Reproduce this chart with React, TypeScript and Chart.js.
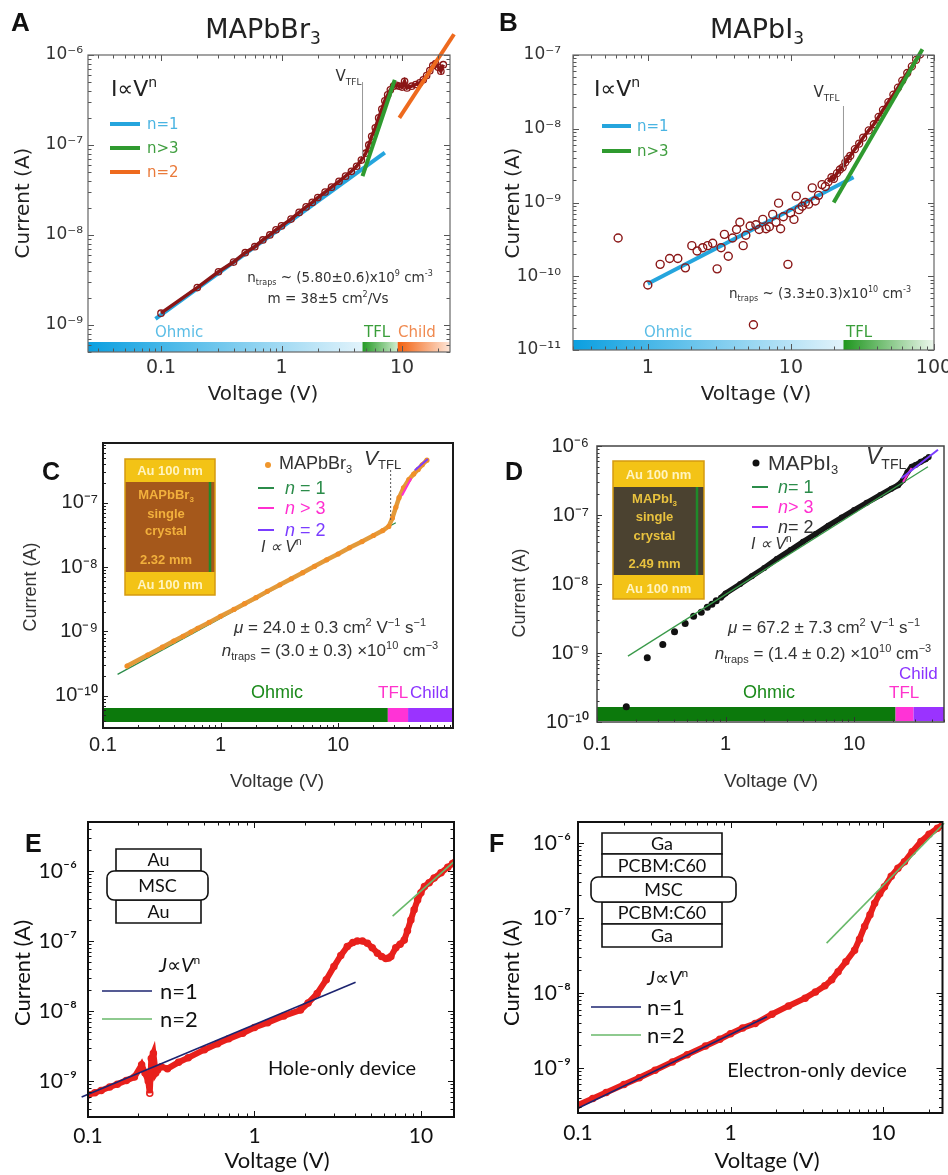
import React, { useEffect, useRef } from 'react';
import { Chart, registerables } from 'chart.js';
Chart.register(...registerables);

const PAGE_W = 948;
const PAGE_H = 1175;

// ---------------- Panel A : MAPbBr3 ----------------
const aV = [0.1,0.2,0.3,0.4,0.5,0.6,0.7,0.8,0.9,1.0,1.2,1.4,1.6,1.8,2.0,2.3,2.6,3.0,3.4,3.8,4.2,4.6,5.0,5.3,5.6,6.0,6.4,6.8,7.2,7.6,8.0,8.5,9.0,9.5,10,10.5,11,12,13,14,15,16,17,18,19,20,21,22];
const aI = [1.35e-9,2.6e-9,3.9e-9,5.0e-9,6.35e-9,7.4e-9,8.8e-9,1.0e-8,1.14e-8,1.26e-8,1.5e-8,1.78e-8,2.05e-8,2.3e-8,2.6e-8,3.0e-8,3.4e-8,3.95e-8,4.5e-8,5.1e-8,5.8e-8,6.8e-8,8.1e-8,1.0e-7,1.25e-7,1.55e-7,2.0e-7,2.5e-7,3.1e-7,3.6e-7,4.1e-7,4.5e-7,4.6e-7,4.5e-7,4.4e-7,5.1e-7,4.3e-7,4.5e-7,4.7e-7,4.9e-7,5.3e-7,5.9e-7,6.7e-7,7.6e-7,8.0e-7,7.3e-7,6.6e-7,7.8e-7];
const aFitN1V = [0.09, 7.2];
const aFitN1I = [1.17e-9, 8.2e-8];
const aFitN3V = [4.7, 8.7];
const aFitN3I = [4.5e-8, 5.3e-7];
const aFitN2V = [9.5, 27];
const aFitN2I = [2.0e-7, 1.7e-6];
const aVtfl = 4.7;
const aRegimeEdges = [4.7, 9.2];
const aXRange = [0.0248, 25];
const aYRange = [5.0e-10, 1e-6];

// ---------------- Panel B : MAPbI3 ----------------
const bV = [0.62,1.0,1.22,1.42,1.62,1.83,2.03,2.21,2.42,2.62,2.84,3.05,3.25,3.43,3.65,3.91,4.17,4.4,4.64,4.84,5.19,5.47,5.69,6.0,6.36,6.7,7.07,7.46,7.87,8.2,8.47,8.85,9.53,9.95,10.5,10.9,11.4,12.0,12.6,13.3,14.1,14.8,15.6,16.5,17.4];
const bI = [3.3e-10,7.6e-11,1.45e-10,1.74e-10,1.74e-10,1.3e-10,2.6e-10,2.2e-10,2.44e-10,2.6e-10,2.8e-10,1.26e-10,2.44e-10,3.7e-10,1.87e-10,3.3e-10,4.3e-10,5.4e-10,2.6e-10,3.6e-10,4.8e-10,2.2e-11,5.0e-10,4.3e-10,5.9e-10,4.4e-10,4.7e-10,6.9e-10,5.4e-10,9.8e-10,4.4e-10,6.4e-10,1.45e-10,7.2e-10,5.9e-10,1.22e-9,8.0e-10,8.9e-10,1.0e-9,9.5e-10,1.58e-9,1.05e-9,1.25e-9,1.75e-9,1.65e-9];
const bDenseV = [18.3,19.2,20,21,22,23,24,25,26,28,30,32,35,38,41,44,48,52,56,60,65,70,75,80];
const bDenseI = [1.9e-9,2.2e-9,2.1e-9,2.5e-9,2.8e-9,3.0e-9,3.5e-9,3.9e-9,4.3e-9,5.3e-9,6.3e-9,7.6e-9,9.5e-9,1.15e-8,1.45e-8,1.8e-8,2.3e-8,2.9e-8,3.6e-8,4.5e-8,5.7e-8,7.0e-8,8.6e-8,1.02e-7];
const bFitN1V = [1.0, 27.4];
const bFitN1I = [7.9e-11, 2.2e-9];
const bFitN3V = [19.9, 83];
const bFitN3I = [1.0e-9, 1.2e-7];
const bVtfl = 23.3;
const bRegimeEdges = [23.3];
const bXRange = [0.311, 100];
const bYRange = [1e-11, 1e-7];

// ---------------- Panel C : MAPbBr3 single crystal ----------------
const cV = [0.16,0.24,0.32,0.40,0.48,0.56,0.64,0.8,1.0,1.3,1.6,2.0,2.5,3.2,4.0,5.0,6.3,8.0,10,12.5,16,20,24,27,29,31,33,36,40,44,48,52,57];
const cI = [2.9e-10,4.3e-10,5.7e-10,7.1e-10,8.4e-10,9.8e-10,1.12e-9,1.38e-9,1.72e-9,2.2e-9,2.7e-9,3.35e-9,4.2e-9,5.3e-9,6.6e-9,8.2e-9,1.03e-8,1.3e-8,1.6e-8,2.0e-8,2.5e-8,3.1e-8,3.7e-8,4.3e-8,5.8e-8,8.5e-8,1.2e-7,1.7e-7,2.3e-7,2.8e-7,3.3e-7,3.9e-7,4.6e-7];
const cFitN1V = [0.133, 31];
const cFitN1I = [2.15e-10, 4.9e-8];
const cFitN3V = [35, 42];
const cFitN3I = [1.3e-7, 2.4e-7];
const cFitN2V = [45, 58];
const cFitN2I = [3.2e-7, 4.8e-7];
const cVtfl = 28;
const cRegimeEdges = [26.5, 39.4];
const cXRange = [0.1, 95];
const cYRange = [3.16e-11, 8.5e-7];

// ---------------- Panel D : MAPbI3 single crystal ----------------
const dDotV = [0.169,0.246,0.325,0.401,0.485,0.564,0.647,0.721,0.783,0.846];
const dDotI = [1.67e-10,8.5e-10,1.33e-9,2.04e-9,2.67e-9,3.4e-9,3.9e-9,4.6e-9,5.1e-9,5.7e-9];
const dV = [0.92,1.0,1.3,1.6,2.0,2.5,3.2,4.0,5.0,6.3,8.0,10,12.5,16,19.5,22,24,26,28,30,33,36,38];
const dI = [6.3e-9,7.3e-9,1.0e-8,1.3e-8,1.7e-8,2.3e-8,3.1e-8,4.1e-8,5.3e-8,7.0e-8,9.2e-8,1.18e-7,1.5e-7,1.95e-7,2.4e-7,2.7e-7,3.2e-7,4.2e-7,5.0e-7,5.3e-7,5.9e-7,6.4e-7,6.9e-7];
const dFitN1V = [0.174, 37.5];
const dFitN1I = [9e-10, 5.0e-7];
const dFitN3V = [24, 28];
const dFitN3I = [3.0e-7, 4.8e-7];
const dFitN2V = [23.3, 44.9];
const dFitN2I = [3.4e-7, 8.8e-7];
const dRegimeEdges = [21, 29];
const dXRange = [0.1, 50];
const dYRange = [1e-10, 1e-6];

// ---------------- Panel E : hole-only device ----------------
const eV = [0.100,0.110,0.120,0.135,0.150,0.170,0.190,0.210,0.220,0.230,0.235,0.240,0.247,0.255,0.262,0.275,0.300,0.350,0.400,0.500,0.600,0.700,0.850,1.00,1.20,1.50,1.89,2.10,2.38,2.70,3.00,3.30,3.61,3.90,4.15,4.45,4.77,5.10,5.48,5.80,6.15,6.40,6.60,7.06,7.50,7.94,8.30,8.70,9.10,9.55,10.0,10.5,11.2,12.0,13.2,14.5,15.5,16.0];
const eI = [6.3e-10,6.8e-10,7.3e-10,8.2e-10,9.0e-10,1.02e-9,1.14e-9,1.7e-9,1.3e-9,1.0e-9,6.7e-10,2.1e-9,2.5e-9,1.3e-9,1.44e-9,1.6e-9,1.5e-9,1.85e-9,2.15e-9,2.8e-9,3.4e-9,4.0e-9,4.8e-9,5.8e-9,6.8e-9,8.5e-9,1.03e-8,1.3e-8,1.78e-8,2.8e-8,4.3e-8,6.2e-8,8.3e-8,9.5e-8,1.0e-7,1.0e-7,9.3e-8,8.0e-8,6.7e-8,6.0e-8,5.6e-8,5.7e-8,6.0e-8,8.0e-8,9.0e-8,1.03e-7,1.4e-7,2.0e-7,2.8e-7,3.86e-7,4.9e-7,6.0e-7,6.8e-7,7.9e-7,9.4e-7,1.13e-6,1.28e-6,1.33e-6];
const eFitN1V = [0.0916, 4.05];
const eFitN1I = [5.9e-10, 2.57e-8];
const eFitN2V = [6.76, 15.8];
const eFitN2I = [2.27e-7, 1.36e-6];
const eXRange = [0.1, 15.8];
const eYRange = [3.06e-10, 5.0e-6];

// ---------------- Panel F : electron-only device ----------------
const fV = [0.100,0.125,0.153,0.200,0.252,0.320,0.416,0.520,0.685,0.850,1.00,1.20,1.45,1.87,2.40,3.08,3.60,4.15,4.60,5.07,5.70,6.50,7.00,7.56,8.20,8.80,9.50,10.2,11.3,12.5,13.8,15.5,17.7,20.0,22.7,24.5];
const fI = [3.2e-10,3.9e-10,4.7e-10,6.0e-10,7.4e-10,9.3e-10,1.2e-9,1.5e-9,1.95e-9,2.4e-9,2.85e-9,3.4e-9,3.9e-9,5.2e-9,6.7e-9,8.5e-9,1.03e-8,1.24e-8,1.5e-8,1.92e-8,2.6e-8,3.7e-8,5.2e-8,7.7e-8,1.1e-7,1.57e-7,2.1e-7,2.6e-7,3.6e-7,4.6e-7,5.6e-7,7.6e-7,1.04e-6,1.3e-6,1.57e-6,1.74e-6];
const fFitN1V = [0.1, 1.73];
const fFitN1I = [2.9e-10, 4.8e-9];
const fFitN2V = [4.26, 25.1];
const fFitN2I = [4.6e-8, 1.83e-6];
const fXRange = [0.1, 24.5];
const fYRange = [2.5e-10, 1.9e-6];

// ---------------- fonts & colours ----------------
const FA = '"DejaVu Sans", Verdana, sans-serif';
const FC = '"Liberation Sans", Arial, sans-serif';
const FE = 'Lato, "Open Sans", sans-serif';
const FL = '"Liberation Sans Narrow", "Liberation Sans", Arial, sans-serif';

const MAROON = '#8a1616';
const A_BLUE = '#25a5dd';
const A_GREEN = '#2f9a2f';
const A_ORANGE = '#ee6a1e';
const RED = '#e8201c';
const NAVY = '#1c2470';
const E_GREEN = '#69b96a';
const C_GREEN = '#2b8c4a';
const C_MAG = '#ff2fd0';
const C_PUR = '#7a3cff';

// ---------------- helpers ----------------
const pts = (xs: number[], ys: number[]) => xs.map((x, i) => ({ x, y: ys[i] }));
const SUPMAP: Record<string, string> = { '0': '⁰', '1': '¹', '2': '²', '3': '³', '4': '⁴', '5': '⁵', '6': '⁶', '7': '⁷', '8': '⁸', '9': '⁹', '-': '⁻' };
const supStr = (n: number) => String(n).split('').map((c) => SUPMAP[c] ?? c).join('');
const fmtX = (r: number) => (r >= 0 ? String(Math.round(Math.pow(10, r))) : String(+Math.pow(10, r).toPrecision(1)));

type Seg = { t: string; k: 'n' | 'sup' | 'sub'; it: boolean };
function parseRich(s: string): Seg[] {
  const segs: Seg[] = [];
  let buf = '';
  let i = 0;
  while (i < s.length) {
    const c = s[i];
    if ((c === '^' || c === '_' || c === '!') && s[i + 1] === '{') {
      if (buf) segs.push({ t: buf, k: 'n', it: false });
      buf = '';
      const j = s.indexOf('}', i + 2);
      const inner = s.slice(i + 2, j);
      segs.push({ t: inner, k: c === '^' ? 'sup' : c === '_' ? 'sub' : 'n', it: c === '!' });
      i = j + 1;
    } else {
      buf += c;
      i++;
    }
  }
  if (buf) segs.push({ t: buf, k: 'n', it: false });
  return segs;
}

type RichOpt = { size: number; family: string; color: string; align?: 'left' | 'center' | 'right'; weight?: string; rot?: boolean };
function rich(ctx: CanvasRenderingContext2D, s: string, x: number, y: number, o: RichOpt) {
  const segs = parseRich(s);
  const w = o.weight || 'normal';
  const fontOf = (g: Seg) => `${g.it ? 'italic ' : ''}${w} ${g.k === 'n' ? o.size : Math.round(o.size * 0.62)}px ${o.family}`;
  const widths = segs.map((g) => {
    ctx.font = fontOf(g);
    return ctx.measureText(g.t).width;
  });
  const total = widths.reduce((a, b) => a + b, 0);
  ctx.save();
  ctx.translate(x, y);
  if (o.rot) ctx.rotate(-Math.PI / 2);
  let sx = o.align === 'center' ? -total / 2 : o.align === 'right' ? -total : 0;
  const base = o.size * 0.36;
  ctx.fillStyle = o.color;
  ctx.textAlign = 'left';
  ctx.textBaseline = 'alphabetic';
  segs.forEach((g, i) => {
    ctx.font = fontOf(g);
    const dy = g.k === 'sup' ? -o.size * 0.4 : g.k === 'sub' ? o.size * 0.22 : 0;
    ctx.fillText(g.t, sx, base + dy);
    sx += widths[i];
  });
  ctx.restore();
}

function seg(ctx: CanvasRenderingContext2D, x0: number, y0: number, x1: number, y1: number, color: string, w: number, dash?: number[]) {
  ctx.save();
  ctx.strokeStyle = color;
  ctx.lineWidth = w;
  if (dash) ctx.setLineDash(dash);
  ctx.beginPath();
  ctx.moveTo(x0, y0);
  ctx.lineTo(x1, y1);
  ctx.stroke();
  ctx.restore();
}

function gradBar(ctx: CanvasRenderingContext2D, x0: number, x1: number, y: number, h: number, c0: string, c1: string) {
  const g = ctx.createLinearGradient(x0, 0, x1, 0);
  g.addColorStop(0, c0);
  g.addColorStop(1, c1);
  ctx.fillStyle = g;
  ctx.fillRect(x0, y, x1 - x0, h);
}

function boxText(ctx: CanvasRenderingContext2D, x0: number, y0: number, x1: number, y1: number, label: string, rounded: boolean) {
  ctx.save();
  ctx.fillStyle = '#fff';
  ctx.strokeStyle = '#111';
  ctx.lineWidth = 1.6;
  ctx.beginPath();
  if (rounded) (ctx as any).roundRect(x0, y0, x1 - x0, y1 - y0, 7);
  else ctx.rect(x0, y0, x1 - x0, y1 - y0);
  ctx.fill();
  ctx.stroke();
  ctx.restore();
  rich(ctx, label, (x0 + x1) / 2, (y0 + y1) / 2, { size: 18, family: FE, color: '#111', align: 'center' });
}

function crystalInset(ctx: CanvasRenderingContext2D, x0: number, x1: number, yt: number, yb1: number, yb2: number, yb: number, body: string, bodyText: string, lines: [string, number][], auTop: number, auBot: number, greenX: number) {
  ctx.save();
  ctx.fillStyle = '#f3c316';
  ctx.fillRect(x0, yt, x1 - x0, yb - yt);
  ctx.fillStyle = body;
  ctx.fillRect(x0, yb1, x1 - x0, yb2 - yb1);
  ctx.strokeStyle = '#d59a10';
  ctx.lineWidth = 1.5;
  ctx.strokeRect(x0, yt, x1 - x0, yb - yt);
  ctx.restore();
  seg(ctx, greenX, yb1, greenX, yb2, '#1f8a2a', 2.5);
  const cx = (x0 + x1) / 2;
  rich(ctx, 'Au 100 nm', cx, auTop, { size: 13, family: FL, color: '#fff4c0', align: 'center', weight: 'bold' });
  rich(ctx, 'Au 100 nm', cx, auBot, { size: 13, family: FL, color: '#fff4c0', align: 'center', weight: 'bold' });
  lines.forEach(([t, y]) => rich(ctx, t, cx - 4, y, { size: 13, family: FL, color: bodyText, align: 'center', weight: 'bold' }));
}

type Helpers = { px: (v: number) => number; py: (v: number) => number; area: { left: number; right: number; top: number; bottom: number } };

type PanelCfg = {
  plot: [number, number, number, number];
  xRange: number[];
  yRange: number[];
  xLabels: number[];
  yLabels: number[];
  font: string;
  xTickSize: number;
  yTickSize: number;
  xPad: number;
  yPad: number;
  tickColor: string;
  sides: string[];
  major: number;
  minor: number;
  markColor: string;
  frameColor: string;
  frameWidth: number;
  datasets: any[];
  before?: (ctx: CanvasRenderingContext2D, h: Helpers) => void;
  after: (ctx: CanvasRenderingContext2D, h: Helpers) => void;
};

function fitLine(xs: number[], ys: number[], color: string, width: number) {
  return { data: pts(xs, ys), showLine: true, borderColor: color, borderWidth: width, pointRadius: 0, clip: false, tension: 0 };
}

function logTickValues(min: number, max: number) {
  const out: [number, boolean][] = [];
  for (let e = Math.floor(Math.log10(min)) - 1; e <= Math.ceil(Math.log10(max)); e++) {
    for (let k = 1; k <= 9; k++) {
      const v = k * Math.pow(10, e);
      if (v >= min * 0.9999 && v <= max * 1.0001) out.push([v, k === 1]);
    }
  }
  return out;
}

function drawFrame(ctx: CanvasRenderingContext2D, chart: any, p: PanelCfg) {
  const xs = chart.scales.x;
  const ys = chart.scales.y;
  const a = chart.chartArea;
  ctx.save();
  ctx.strokeStyle = p.markColor;
  ctx.lineWidth = 1;
  ctx.beginPath();
  for (const [v, major] of logTickValues(xs.min, xs.max)) {
    const x = Math.round(xs.getPixelForValue(v)) + 0.5;
    const len = major ? p.major : p.minor;
    if (p.sides.includes('bottom')) { ctx.moveTo(x, a.bottom); ctx.lineTo(x, a.bottom - len); }
    if (p.sides.includes('top')) { ctx.moveTo(x, a.top); ctx.lineTo(x, a.top + len); }
  }
  for (const [v, major] of logTickValues(ys.min, ys.max)) {
    const y = Math.round(ys.getPixelForValue(v)) + 0.5;
    const len = major ? p.major : p.minor;
    if (p.sides.includes('left')) { ctx.moveTo(a.left, y); ctx.lineTo(a.left + len, y); }
    if (p.sides.includes('right')) { ctx.moveTo(a.right, y); ctx.lineTo(a.right - len, y); }
  }
  ctx.stroke();
  ctx.strokeStyle = p.frameColor;
  ctx.lineWidth = p.frameWidth;
  ctx.strokeRect(a.left, a.top, a.right - a.left, a.bottom - a.top);
  ctx.restore();
}

function helpersOf(chart: any): Helpers {
  return {
    px: (v: number) => chart.scales.x.getPixelForValue(v),
    py: (v: number) => chart.scales.y.getPixelForValue(v),
    area: chart.chartArea,
  };
}

function buildChart(canvas: HTMLCanvasElement, p: PanelCfg) {
  const [L, T, R, B] = p.plot;
  const YW = 84;
  const XH = 40;
  const plugin = {
    id: 'panelDecor',
    beforeDatasetsDraw(chart: any) {
      if (!p.before) return;
      const ctx = chart.ctx;
      ctx.save();
      p.before(ctx, helpersOf(chart));
      ctx.restore();
    },
    afterDatasetsDraw(chart: any) {
      drawFrame(chart.ctx, chart, p);
    },
    afterDraw(chart: any) {
      const ctx = chart.ctx;
      ctx.save();
      p.after(ctx, helpersOf(chart));
      ctx.restore();
    },
  };
  const decade = (v: any, list: number[]) => {
    const l = Math.log10(Number(v));
    const r = Math.round(l);
    return Math.abs(l - r) < 1e-6 && list.includes(r) ? r : null;
  };
  return new Chart(canvas, {
    type: 'scatter',
    data: { datasets: p.datasets },
    options: {
      animation: false,
      responsive: false,
      events: [],
      layout: { padding: { left: L - YW, top: T, right: PAGE_W - R, bottom: PAGE_H - B - XH } },
      plugins: { legend: { display: false }, tooltip: { enabled: false }, title: { display: false } },
      scales: {
        x: {
          type: 'logarithmic',
          position: 'bottom',
          min: p.xRange[0],
          max: p.xRange[1],
          grid: { display: false, drawTicks: false },
          border: { display: false },
          ticks: {
            autoSkip: false,
            maxRotation: 0,
            minRotation: 0,
            padding: p.xPad,
            color: p.tickColor,
            font: { family: p.font, size: p.xTickSize },
            callback: (v: any) => {
              const r = decade(v, p.xLabels);
              return r === null ? '' : fmtX(r);
            },
          },
          afterFit: (s: any) => {
            s.height = XH;
            s.paddingLeft = 0;
            s.paddingRight = 0;
          },
        },
        y: {
          type: 'logarithmic',
          position: 'left',
          min: p.yRange[0],
          max: p.yRange[1],
          grid: { display: false, drawTicks: false },
          border: { display: false },
          ticks: {
            autoSkip: false,
            padding: p.yPad,
            color: p.tickColor,
            font: { family: p.font, size: p.yTickSize },
            callback: (v: any) => {
              const r = decade(v, p.yLabels);
              return r === null ? '' : '10' + supStr(r);
            },
          },
          afterFit: (s: any) => {
            s.width = YW;
            s.paddingTop = 0;
            s.paddingBottom = 0;
          },
        },
      },
    } as any,
    plugins: [plugin],
  });
}

// ---------------- panel definitions ----------------
const panelA: PanelCfg = {
  plot: [88, 55, 450, 352],
  xRange: aXRange, yRange: aYRange, xLabels: [-1, 0, 1], yLabels: [-9, -8, -7, -6],
  font: FA, xTickSize: 19, yTickSize: 17, xPad: 5, yPad: 5, tickColor: '#333',
  sides: ['left', 'right', 'top', 'bottom'], major: 6, minor: 3.5, markColor: '#555', frameColor: '#666', frameWidth: 1.2,
  datasets: [
    fitLine(aFitN2V, aFitN2I, A_ORANGE, 4),
    fitLine(aFitN3V, aFitN3I, A_GREEN, 4),
    { data: pts(aV, aI), showLine: true, borderColor: MAROON, borderWidth: 3.5, pointRadius: 3.2, pointBorderWidth: 1.3, pointBorderColor: MAROON, pointBackgroundColor: 'rgba(0,0,0,0)', tension: 0 },
    fitLine(aFitN1V, aFitN1I, A_BLUE, 4),
  ],
  before: (ctx, h) => {
    const { px, area } = h;
    const y0 = area.bottom - 10;
    gradBar(ctx, area.left, px(aRegimeEdges[0]), y0, 10, '#0a9fe0', '#e2f3fb');
    gradBar(ctx, px(aRegimeEdges[0]), px(aRegimeEdges[1]), y0, 10, '#249a24', '#cfeccf');
    gradBar(ctx, px(aRegimeEdges[1]), area.right, y0, 10, '#f2600e', '#fde6d8');
  },
  after: (ctx, h) => {
    const { px } = h;
    rich(ctx, 'A', 11, 22, { size: 26, family: FL, color: '#111', weight: 'bold' });
    rich(ctx, 'MAPbBr_{3}', 263, 28, { size: 27, family: FA, color: '#222', align: 'center' });
    rich(ctx, 'Current (A)', 22, 203, { size: 20, family: FA, color: '#222', align: 'center', rot: true });
    rich(ctx, 'Voltage (V)', 263, 393, { size: 20, family: FA, color: '#222', align: 'center' });
    seg(ctx, px(aVtfl), 82, px(aVtfl), 157, '#999', 1);
    rich(ctx, 'V_{TFL}', px(aVtfl) - 1, 76, { size: 15, family: FA, color: '#333', align: 'right' });
    rich(ctx, 'I∝V^{n}', 111, 88, { size: 22, family: FA, color: '#222' });
    seg(ctx, 110, 124, 140, 124, A_BLUE, 4);
    rich(ctx, 'n=1', 147, 124, { size: 15, family: FA, color: '#4ab4e2' });
    seg(ctx, 110, 148, 140, 148, A_GREEN, 4);
    rich(ctx, 'n>3', 147, 148, { size: 15, family: FA, color: '#3f9e3f' });
    seg(ctx, 110, 172, 140, 172, A_ORANGE, 4);
    rich(ctx, 'n=2', 147, 172, { size: 15, family: FA, color: '#ea7a3a' });
    rich(ctx, 'n_{traps} ~ (5.80±0.6)x10^{9} cm^{-3}', 340, 277, { size: 13.5, family: FA, color: '#333', align: 'center' });
    rich(ctx, 'm = 38±5 cm^{2}/Vs', 328, 298, { size: 13.5, family: FA, color: '#333', align: 'center' });
    rich(ctx, 'Ohmic', 155, 332, { size: 15, family: FA, color: '#5bbde6' });
    rich(ctx, 'TFL', 364, 332, { size: 15, family: FA, color: '#3a9e3a' });
    rich(ctx, 'Child', 398, 332, { size: 15, family: FA, color: '#f08a50' });
  },
};

const panelB: PanelCfg = {
  plot: [573, 55, 934, 350],
  xRange: bXRange, yRange: bYRange, xLabels: [0, 1, 2], yLabels: [-11, -10, -9, -8, -7],
  font: FA, xTickSize: 19, yTickSize: 17, xPad: 7, yPad: 12, tickColor: '#333',
  sides: ['left', 'right', 'top', 'bottom'], major: 6, minor: 3.5, markColor: '#555', frameColor: '#666', frameWidth: 1.2,
  datasets: [
    fitLine(bFitN3V, bFitN3I, A_GREEN, 4),
    { data: pts(bDenseV, bDenseI), showLine: true, borderColor: MAROON, borderWidth: 3.5, pointRadius: 3.5, pointBorderWidth: 1.3, pointBorderColor: MAROON, pointBackgroundColor: 'rgba(0,0,0,0)', tension: 0 },
    { data: pts(bV, bI), showLine: false, pointRadius: 4, pointBorderWidth: 1.4, pointBorderColor: MAROON, pointBackgroundColor: 'rgba(0,0,0,0)' },
    fitLine(bFitN1V, bFitN1I, A_BLUE, 4),
  ],
  before: (ctx, h) => {
    const { px, area } = h;
    const y0 = area.bottom - 10;
    gradBar(ctx, area.left, px(bRegimeEdges[0]), y0, 10, '#0a9fe0', '#e2f3fb');
    gradBar(ctx, px(bRegimeEdges[0]), area.right, y0, 10, '#1e961e', '#eef8ee');
  },
  after: (ctx, h) => {
    const { px } = h;
    rich(ctx, 'B', 499, 22, { size: 26, family: FL, color: '#111', weight: 'bold' });
    rich(ctx, 'MAPbI_{3}', 757, 28, { size: 27, family: FA, color: '#222', align: 'center' });
    rich(ctx, 'Current (A)', 512, 203, { size: 20, family: FA, color: '#222', align: 'center', rot: true });
    rich(ctx, 'Voltage (V)', 756, 393, { size: 20, family: FA, color: '#222', align: 'center' });
    seg(ctx, px(bVtfl), 106, px(bVtfl), 168, '#999', 1);
    rich(ctx, 'V_{TFL}', px(bVtfl) - 4, 92, { size: 15, family: FA, color: '#333', align: 'right' });
    rich(ctx, 'I∝V^{n}', 594, 88, { size: 22, family: FA, color: '#222' });
    seg(ctx, 602, 126, 631, 126, A_BLUE, 4);
    rich(ctx, 'n=1', 637, 126, { size: 15, family: FA, color: '#4ab4e2' });
    seg(ctx, 602, 151, 631, 151, A_GREEN, 4);
    rich(ctx, 'n>3', 637, 151, { size: 15, family: FA, color: '#3f9e3f' });
    rich(ctx, 'n_{traps} ~ (3.3±0.3)x10^{10} cm^{-3}', 820, 293, { size: 13.5, family: FA, color: '#333', align: 'center' });
    rich(ctx, 'Ohmic', 644, 332, { size: 15, family: FA, color: '#5bbde6' });
    rich(ctx, 'TFL', 846, 332, { size: 15, family: FA, color: '#3a9e3a' });
  },
};

const panelC: PanelCfg = {
  plot: [103, 443, 453, 728],
  xRange: cXRange, yRange: cYRange, xLabels: [-1, 0, 1], yLabels: [-10, -9, -8, -7],
  font: FC, xTickSize: 20, yTickSize: 20, xPad: 5, yPad: 5, tickColor: '#222',
  sides: ['left', 'bottom'], major: 5, minor: 3, markColor: '#222', frameColor: '#1a1a1a', frameWidth: 2,
  datasets: [
    fitLine(cFitN2V, cFitN2I, C_PUR, 2),
    fitLine(cFitN3V, cFitN3I, C_MAG, 2),
    { data: pts(cV, cI), showLine: true, borderColor: '#e39a3a', borderWidth: 4.5, pointRadius: 2.6, pointBorderWidth: 0, pointBackgroundColor: '#f08f28', tension: 0 },
    fitLine(cFitN1V, cFitN1I, C_GREEN, 1.3),
  ],
  before: (ctx, h) => {
    const { px, area } = h;
    ctx.fillStyle = '#0c790c';
    ctx.fillRect(area.left, 708, px(cRegimeEdges[0]) - area.left, 14);
    ctx.fillStyle = '#ff33d6';
    ctx.fillRect(px(cRegimeEdges[0]), 708, px(cRegimeEdges[1]) - px(cRegimeEdges[0]), 14);
    ctx.fillStyle = '#9a33ff';
    ctx.fillRect(px(cRegimeEdges[1]), 708, area.right - px(cRegimeEdges[1]), 14);
  },
  after: (ctx, h) => {
    const { px } = h;
    rich(ctx, 'C', 42, 471, { size: 25, family: FL, color: '#111', weight: 'bold' });
    rich(ctx, 'Current (A)', 30, 587, { size: 18, family: FC, color: '#333', align: 'center', rot: true });
    rich(ctx, 'Voltage (V)', 277, 780, { size: 19, family: FC, color: '#333', align: 'center' });
    crystalInset(ctx, 125, 215, 459, 482, 572, 595, '#a5581b', '#f2b03c',
      [['MAPbBr_{3}', 494], ['single', 513], ['crystal', 530], ['2.32 mm', 559]], 470, 584, 210);
    ctx.save();
    ctx.fillStyle = '#f0962c';
    ctx.beginPath();
    ctx.arc(268, 465, 3, 0, Math.PI * 2);
    ctx.fill();
    ctx.restore();
    rich(ctx, 'MAPbBr_{3}', 279, 463, { size: 18, family: FC, color: '#333' });
    rich(ctx, '!{V}_{TFL}', 364, 457, { size: 21, family: FC, color: '#333' });
    seg(ctx, px(cVtfl), 470, px(cVtfl), 522, '#555', 1, [2, 2]);
    seg(ctx, 258, 488, 274, 488, C_GREEN, 2);
    rich(ctx, '!{n} = 1', 285, 488, { size: 18, family: FC, color: C_GREEN });
    seg(ctx, 258, 508, 274, 508, C_MAG, 2);
    rich(ctx, '!{n} > 3', 285, 508, { size: 18, family: FC, color: C_MAG });
    seg(ctx, 258, 530, 274, 530, C_PUR, 2);
    rich(ctx, '!{n} = 2', 285, 530, { size: 18, family: FC, color: C_PUR });
    rich(ctx, '!{I ∝ V}^{n}', 261, 546, { size: 16, family: FC, color: '#333' });
    rich(ctx, '!{μ} = 24.0 ± 0.3 cm^{2} V^{−1} s^{−1}', 330, 627, { size: 17, family: FC, color: '#333', align: 'center' });
    rich(ctx, '!{n}_{traps} = (3.0 ± 0.3) ×10^{10} cm^{−3}', 330, 650, { size: 17, family: FC, color: '#333', align: 'center' });
    rich(ctx, 'Ohmic', 277, 692, { size: 18, family: FC, color: '#1b8a1b', align: 'center' });
    rich(ctx, 'TFL', 378, 692, { size: 17, family: FC, color: '#ff33cc' });
    rich(ctx, 'Child', 410, 692, { size: 17, family: FC, color: '#8a33ff' });
  },
};

const panelD: PanelCfg = {
  plot: [597, 446, 944, 722],
  xRange: dXRange, yRange: dYRange, xLabels: [-1, 0, 1], yLabels: [-10, -9, -8, -7, -6],
  font: FC, xTickSize: 20, yTickSize: 20, xPad: 10, yPad: 8, tickColor: '#222',
  sides: ['left', 'bottom'], major: 5, minor: 2.5, markColor: '#333', frameColor: '#444', frameWidth: 1.5,
  datasets: [
    fitLine(dFitN2V, dFitN2I, C_PUR, 2),
    fitLine(dFitN3V, dFitN3I, C_MAG, 2),
    fitLine(dFitN1V, dFitN1I, '#3a9a4a', 1.3),
    { data: pts(dV, dI), showLine: true, borderColor: '#161616', borderWidth: 5.5, pointRadius: 3, pointBorderWidth: 0, pointBackgroundColor: '#161616', tension: 0 },
    { data: pts(dDotV, dDotI), showLine: false, pointRadius: 3.5, pointBorderWidth: 0, pointBackgroundColor: '#111' },
  ],
  before: (ctx, h) => {
    const { px, area } = h;
    ctx.fillStyle = '#0c790c';
    ctx.fillRect(area.left, 707, px(dRegimeEdges[0]) - area.left, 14);
    ctx.fillStyle = '#ff33d6';
    ctx.fillRect(px(dRegimeEdges[0]), 707, px(dRegimeEdges[1]) - px(dRegimeEdges[0]), 14);
    ctx.fillStyle = '#9a33ff';
    ctx.fillRect(px(dRegimeEdges[1]), 707, area.right - px(dRegimeEdges[1]), 14);
  },
  after: (ctx) => {
    rich(ctx, 'D', 505, 471, { size: 25, family: FL, color: '#111', weight: 'bold' });
    rich(ctx, 'Current (A)', 519, 593, { size: 18, family: FC, color: '#333', align: 'center', rot: true });
    rich(ctx, 'Voltage (V)', 771, 780, { size: 19, family: FC, color: '#333', align: 'center' });
    crystalInset(ctx, 613, 704, 461, 487, 575, 599, '#4b4230', '#e9c23e',
      [['MAPbI_{3}', 498], ['single', 516], ['crystal', 535], ['2.49 mm', 563]], 474, 588, 697);
    ctx.save();
    ctx.fillStyle = '#111';
    ctx.beginPath();
    ctx.arc(756, 463, 3.5, 0, Math.PI * 2);
    ctx.fill();
    ctx.restore();
    rich(ctx, 'MAPbI_{3}', 768, 462, { size: 21, family: FC, color: '#333' });
    rich(ctx, '!{V}_{TFL}', 866, 456, { size: 23, family: FC, color: '#333' });
    seg(ctx, 752, 487, 768, 487, C_GREEN, 2);
    rich(ctx, '!{n}= 1', 778, 487, { size: 18, family: FC, color: C_GREEN });
    seg(ctx, 752, 507, 768, 507, C_MAG, 2);
    rich(ctx, '!{n}> 3', 778, 507, { size: 18, family: FC, color: C_MAG });
    seg(ctx, 752, 527, 768, 527, C_PUR, 2);
    rich(ctx, '!{n}= 2', 778, 527, { size: 18, family: FC, color: '#333' });
    rich(ctx, '!{I ∝ V}^{n}', 751, 543, { size: 16, family: FC, color: '#333' });
    rich(ctx, '!{μ} = 67.2 ± 7.3 cm^{2} V^{−1} s^{−1}', 824, 627, { size: 17, family: FC, color: '#333', align: 'center' });
    rich(ctx, '!{n}_{traps} = (1.4 ± 0.2) ×10^{10} cm^{−3}', 823, 653, { size: 17, family: FC, color: '#333', align: 'center' });
    rich(ctx, 'Ohmic', 769, 692, { size: 18, family: FC, color: '#1b8a1b', align: 'center' });
    rich(ctx, 'TFL', 889, 692, { size: 17, family: FC, color: '#ff33cc' });
    rich(ctx, 'Child', 899, 673, { size: 17, family: FC, color: '#8a33ff' });
  },
};

const panelE: PanelCfg = {
  plot: [88, 822, 454, 1117],
  xRange: eXRange, yRange: eYRange, xLabels: [-1, 0, 1], yLabels: [-9, -8, -7, -6],
  font: FE, xTickSize: 21, yTickSize: 21, xPad: 7, yPad: 11, tickColor: '#111',
  sides: ['left', 'right', 'top', 'bottom'], major: 6, minor: 3.5, markColor: '#111', frameColor: '#111', frameWidth: 2,
  datasets: [
    fitLine(eFitN2V, eFitN2I, E_GREEN, 1.6),
    fitLine(eFitN1V, eFitN1I, NAVY, 1.6),
    { data: pts(eV, eI), showLine: true, borderColor: RED, borderWidth: 6, pointRadius: 3, pointBorderWidth: 1.5, pointBorderColor: RED, pointBackgroundColor: 'rgba(0,0,0,0)', tension: 0 },
  ],
  after: (ctx) => {
    rich(ctx, 'E', 25, 843, { size: 25, family: FL, color: '#111', weight: 'bold' });
    rich(ctx, 'Current (A)', 22, 973, { size: 22, family: FE, color: '#111', align: 'center', rot: true });
    rich(ctx, 'Voltage (V)', 277, 1160, { size: 22, family: FE, color: '#111', align: 'center' });
    boxText(ctx, 116, 849, 201, 871, 'Au', false);
    boxText(ctx, 116, 900, 201, 923, 'Au', false);
    boxText(ctx, 107, 871, 208, 900, 'MSC', true);
    rich(ctx, '!{J}∝!{V}^{n}', 159, 965, { size: 20, family: FE, color: '#111' });
    seg(ctx, 102, 991, 152, 991, NAVY, 1.6);
    rich(ctx, 'n=1', 160, 991, { size: 22, family: FE, color: '#111' });
    seg(ctx, 102, 1019, 152, 1019, E_GREEN, 1.6);
    rich(ctx, 'n=2', 160, 1019, { size: 22, family: FE, color: '#111' });
    rich(ctx, 'Hole-only device', 342, 1068, { size: 20, family: FE, color: '#111', align: 'center' });
  },
};

const panelF: PanelCfg = {
  plot: [578, 822, 946, 1113],
  xRange: fXRange, yRange: fYRange, xLabels: [-1, 0, 1], yLabels: [-9, -8, -7, -6],
  font: FE, xTickSize: 21, yTickSize: 21, xPad: 8, yPad: 7, tickColor: '#111',
  sides: ['left', 'right', 'top', 'bottom'], major: 6, minor: 3.5, markColor: '#111', frameColor: '#111', frameWidth: 2,
  datasets: [
    fitLine(fFitN2V, fFitN2I, E_GREEN, 1.6),
    fitLine(fFitN1V, fFitN1I, NAVY, 1.6),
    { data: pts(fV, fI), showLine: true, borderColor: RED, borderWidth: 6, pointRadius: 3, pointBorderWidth: 1.5, pointBorderColor: RED, pointBackgroundColor: 'rgba(0,0,0,0)', tension: 0 },
  ],
  after: (ctx) => {
    rich(ctx, 'F', 489, 843, { size: 25, family: FL, color: '#111', weight: 'bold' });
    rich(ctx, 'Current (A)', 511, 973, { size: 22, family: FE, color: '#111', align: 'center', rot: true });
    rich(ctx, 'Voltage (V)', 767, 1160, { size: 22, family: FE, color: '#111', align: 'center' });
    boxText(ctx, 602, 833, 722, 854, 'Ga', false);
    boxText(ctx, 602, 854, 722, 877, 'PCBM:C60', false);
    boxText(ctx, 602, 902, 722, 924, 'PCBM:C60', false);
    boxText(ctx, 602, 924, 722, 947, 'Ga', false);
    boxText(ctx, 591, 877, 736, 902, 'MSC', true);
    rich(ctx, '!{J}∝!{V}^{n}', 647, 978, { size: 20, family: FE, color: '#111' });
    seg(ctx, 591, 1007, 641, 1007, NAVY, 1.6);
    rich(ctx, 'n=1', 647, 1007, { size: 22, family: FE, color: '#111' });
    seg(ctx, 591, 1035, 641, 1035, E_GREEN, 1.6);
    rich(ctx, 'n=2', 647, 1035, { size: 22, family: FE, color: '#111' });
    rich(ctx, 'Electron-only device', 817, 1070, { size: 20, family: FE, color: '#111', align: 'center' });
  },
};

const PANELS = [panelA, panelB, panelC, panelD, panelE, panelF];

function PanelCanvas({ cfg }: { cfg: PanelCfg }) {
  const ref = useRef<HTMLCanvasElement | null>(null);
  useEffect(() => {
    if (!ref.current) return;
    const chart = buildChart(ref.current, cfg);
    return () => chart.destroy();
  }, [cfg]);
  return <canvas ref={ref} width={PAGE_W} height={PAGE_H} style={{ position: 'absolute', left: 0, top: 0 }} />;
}

export default function App() {
  return (
    <div style={{ position: 'absolute', left: 0, top: 0, width: PAGE_W, height: PAGE_H, background: '#fff', overflow: 'hidden' }}>
      {PANELS.map((p, i) => (
        <PanelCanvas key={i} cfg={p} />
      ))}
    </div>
  );
}
